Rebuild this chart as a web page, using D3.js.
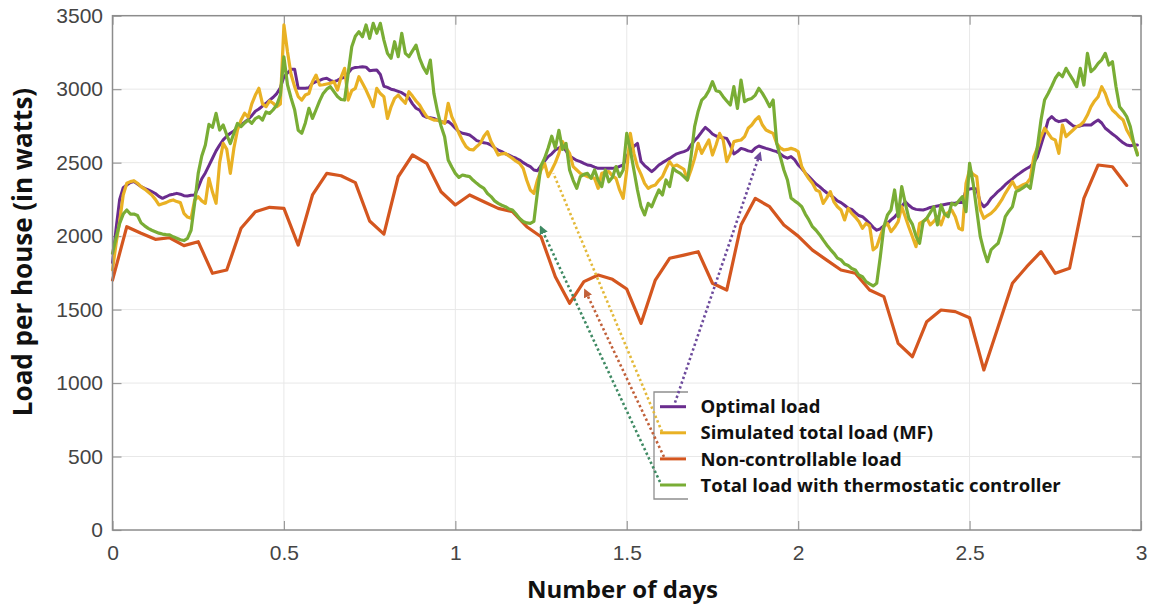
<!DOCTYPE html>
<html>
<head>
<meta charset="utf-8">
<script src="https://cdn.jsdelivr.net/npm/d3@7"></script>
<style>
  html, body { margin: 0; padding: 0; background: #ffffff; }
  svg { display: block; }
</style>
</head>
<body>
<svg id="chart" width="1154" height="606"></svg>
<script>
// ---- Data -------------------------------------------------------------
// Axis ticks
const xTickValues = [0, 0.5, 1, 1.5, 2, 2.5, 3];
const xTickLabels = ["0", "0.5", "1", "1.5", "2", "2.5", "3"];
const yTickValues = [0, 500, 1000, 1500, 2000, 2500, 3000, 3500];
const yTickLabels = ["0", "500", "1000", "1500", "2000", "2500", "3000", "3500"];

// Series names (legend order)
const seriesNames = [
  "Optimal load",
  "Simulated total load (MF)",
  "Non-controllable load",
  "Total load with thermostatic controller"
];

// Sampling steps, in days
const quarterHourStep = 1 / 96;
const hourStep = 1 / 24;

// Optimal load per house (W), every 15 minutes
const optimalLoad = [
  1820,2050,2250,2330,2348,2365,2371,2355,2337,2325,2315,2303,2290,2270,2257,2268,
  2280,2285,2291,2285,2275,2273,2278,2280,2330,2390,2430,2480,2530,2580,2620,2655,
  2680,2700,2715,2740,2756,2775,2795,2820,2850,2865,2885,2904,2925,2945,2970,3010,
  3085,3110,3135,3135,3006,3006,3006,3010,3040,3051,3060,3070,3074,3060,3051,3060,
  3074,3080,3110,3140,3148,3150,3153,3150,3126,3128,3130,3100,3020,3012,3000,2994,
  2985,2976,2960,2940,2900,2870,2858,2820,2808,2805,2801,2790,2780,2772,2780,2760,
  2734,2711,2700,2695,2688,2670,2650,2643,2635,2631,2620,2600,2586,2575,2560,2552,
  2540,2530,2518,2500,2485,2473,2450,2445,2480,2510,2541,2560,2586,2600,2609,2580,
  2545,2530,2515,2507,2495,2484,2480,2470,2461,2461,2461,2461,2461,2465,2475,2484,
  2540,2586,2610,2631,2507,2480,2460,2439,2460,2484,2500,2515,2529,2545,2560,2568,
  2575,2586,2620,2650,2677,2710,2740,2720,2695,2681,2675,2670,2665,2620,2559,2575,
  2597,2590,2580,2575,2600,2613,2605,2597,2590,2582,2575,2560,2541,2530,2541,2520,
  2484,2460,2430,2405,2380,2355,2337,2315,2295,2280,2262,2240,2228,2210,2190,2182,
  2160,2140,2132,2110,2087,2060,2040,2050,2070,2087,2110,2130,2160,2200,2234,2210,
  2190,2182,2180,2178,2185,2195,2200,2205,2210,2215,2220,2223,2225,2228,2228,2314,
  2320,2325,2320,2230,2200,2220,2257,2280,2305,2325,2350,2371,2390,2410,2427,2445,
  2460,2473,2500,2541,2620,2700,2790,2813,2790,2779,2785,2790,2770,2750,2745,2750,
  2756,2756,2756,2775,2790,2770,2734,2715,2695,2677,2655,2635,2620,2615,2620,2620
];

// Simulated total load with the mean-field model (W), every 15 minutes
const simulatedLoad = [
  1770,1950,2100,2280,2360,2371,2377,2360,2337,2320,2300,2280,2250,2212,2220,2228,
  2240,2246,2235,2228,2155,2130,2121,2246,2268,2240,2223,2393,2300,2223,2500,2631,
  2590,2427,2600,2722,2790,2836,2810,2900,2960,3006,2900,2881,2920,2904,2881,2900,
  3437,3255,3100,3017,2950,2926,2960,2971,3050,3096,3028,3030,3035,3040,3051,2994,
  3080,3142,2926,2990,3006,3085,3040,2994,2940,2881,3006,2970,2949,2801,2880,2937,
  2960,2930,2904,2983,2953,2920,2892,2850,2813,2800,2790,2790,2780,2767,2904,2813,
  2760,2700,2650,2609,2590,2586,2610,2631,2680,2711,2643,2600,2552,2560,2563,2545,
  2529,2510,2495,2461,2380,2314,2291,2382,2450,2495,2405,2450,2500,2563,2643,2600,
  2563,2473,2450,2427,2415,2405,2400,2393,2325,2427,2435,2439,2410,2393,2314,2257,
  2450,2699,2563,2473,2420,2359,2325,2340,2348,2380,2405,2460,2507,2473,2484,2470,
  2455,2382,2450,2529,2631,2563,2610,2654,2552,2620,2699,2654,2507,2560,2643,2650,
  2654,2677,2734,2756,2790,2813,2756,2722,2710,2699,2631,2600,2586,2590,2597,2590,
  2575,2473,2427,2390,2359,2314,2303,2223,2260,2303,2234,2200,2178,2110,2189,2155,
  2130,2099,2053,2087,2070,1906,1928,2000,2064,2087,2030,2060,2099,2200,2132,2060,
  1996,1928,2087,2100,2121,2076,2100,2132,2076,2144,2160,2178,2132,2053,2042,2359,
  2450,2420,2405,2178,2121,2140,2155,2178,2210,2246,2291,2330,2371,2325,2337,2350,
  2359,2393,2541,2600,2677,2734,2700,2665,2654,2563,2756,2677,2700,2722,2745,2756,
  2780,2824,2881,2920,2949,3017,2971,2900,2858,2836,2810,2790,2722,2680,2631,2563
];

// Non-controllable load (W), hourly
const nonControllableLoad = [
  1701,2064,2019,1978,1989,1935,1962,1747,1769,2053,2166,2196,
  2189,1939,2280,2427,2411,2364,2103,2014,2404,2552,2495,2302,
  2212,2280,2234,2189,2166,2064,1996,1724,1543,1690,1735,1706,
  1640,1406,1701,1849,1871,1894,1679,1633,2075,2257,2200,2075,
  2000,1905,1837,1769,1747,1633,1588,1270,1179,1418,1497,1486,
  1445,1089,1384,1679,1792,1894,1747,1781,2257,2484,2472,2345
];

// Total load with thermostatic controller (W), every 15 minutes
const thermostaticLoad = [
  1883,1990,2087,2150,2178,2150,2150,2140,2090,2070,2053,2040,2030,2020,2014,2010,
  2008,1995,1985,1975,1970,1985,2040,2223,2427,2545,2620,2760,2740,2835,2722,2756,
  2688,2630,2700,2767,2745,2770,2790,2767,2800,2813,2790,2845,2835,2860,2892,2960,
  3220,3030,2940,2860,2720,2700,2770,2870,2801,2860,2920,2971,3000,3017,2983,2950,
  2930,2926,3108,3289,3360,3391,3357,3437,3346,3448,3380,3448,3334,3244,3210,3323,
  3221,3380,3244,3221,3260,3300,3210,3150,3108,3198,2971,2850,2750,2677,2518,2470,
  2427,2400,2416,2410,2405,2380,2359,2340,2325,2290,2269,2240,2223,2210,2200,2185,
  2178,2150,2120,2099,2090,2087,2100,2300,2480,2530,2600,2680,2600,2720,2590,2631,
  2450,2380,2325,2405,2420,2427,2393,2450,2380,2337,2450,2370,2400,2473,2405,2450,
  2699,2586,2450,2314,2200,2144,2223,2200,2260,2314,2280,2382,2337,2461,2440,2427,
  2405,2382,2541,2745,2850,2926,2949,2990,3051,2990,2983,2949,2920,2892,3017,2869,
  3062,2915,2930,2937,2960,3006,2971,2930,2881,2926,2631,2540,2450,2382,2260,2240,
  2223,2200,2150,2110,2064,2040,2010,1974,1940,1910,1883,1850,1838,1810,1800,1780,
  1770,1735,1724,1690,1675,1661,1679,1860,2064,2144,2178,2314,2132,2337,2223,2121,
  2080,2000,1951,2099,2121,2160,2200,2076,2212,2150,2132,2223,2212,2240,2269,2166,
  2495,2359,2178,1996,1900,1826,1906,1930,1951,2030,2132,2170,2200,2303,2314,2330,
  2348,2325,2473,2609,2790,2926,2971,3020,3074,3108,3085,3142,3100,3062,3017,3142,
  3028,3244,3119,3142,3176,3200,3244,3164,3187,3017,2881,2850,2813,2745,2631,2552
];

// Points on the curves picked out by the dotted call-outs: [day, load]
const calloutTargets = [
  [1.889, 2565],  // optimal load
  [1.286, 2427],  // simulated total load
  [1.378, 1633],  // non-controllable load
  [1.249, 2062]   // thermostatic controller
];

// ---- Layout -----------------------------------------------------------
const colors = ["#6a2c8e", "#e9b124", "#d4561f", "#79ad35"];
const calloutColors = ["#6d4a9c", "#e3b93a", "#c2613a", "#3f8a63"];

const svg = d3.select("#chart");
const plot = { left: 112.5, right: 1141, top: 15.7, bottom: 530 };

const x = d3.scaleLinear().domain([0, 3]).range([plot.left, plot.right]);
const y = d3.scaleLinear().domain([0, 3500]).range([plot.bottom, plot.top]);

// Grid
const grid = svg.append("g").attr("stroke", "#e8e8e8").attr("stroke-width", 1);
grid.selectAll("line.gx").data(xTickValues.slice(1, -1)).join("line")
  .attr("class", "gx")
  .attr("x1", d => x(d)).attr("x2", d => x(d))
  .attr("y1", plot.top).attr("y2", plot.bottom);
grid.selectAll("line.gy").data(yTickValues.slice(1, -1)).join("line")
  .attr("class", "gy")
  .attr("x1", plot.left).attr("x2", plot.right)
  .attr("y1", d => y(d)).attr("y2", d => y(d));

// Axes with inward ticks on all four sides
const tickLen = 9;
const axisFont = "'Liberation Sans', Arial, sans-serif";

const xAxis = svg.append("g")
  .attr("transform", `translate(0,${plot.bottom})`)
  .call(d3.axisBottom(x).tickValues(xTickValues)
    .tickFormat((d, i) => xTickLabels[i])
    .tickSizeInner(-tickLen).tickSizeOuter(0).tickPadding(15));
const yAxis = svg.append("g")
  .attr("transform", `translate(${plot.left},0)`)
  .call(d3.axisLeft(y).tickValues(yTickValues)
    .tickFormat((d, i) => yTickLabels[i])
    .tickSizeInner(-tickLen).tickSizeOuter(0).tickPadding(9.5));
const xAxisTop = svg.append("g")
  .attr("transform", `translate(0,${plot.top})`)
  .call(d3.axisTop(x).tickValues(xTickValues).tickFormat("")
    .tickSizeInner(-tickLen).tickSizeOuter(0));
const yAxisRight = svg.append("g")
  .attr("transform", `translate(${plot.right},0)`)
  .call(d3.axisRight(y).tickValues(yTickValues).tickFormat("")
    .tickSizeInner(-tickLen).tickSizeOuter(0));

[xAxis, yAxis, xAxisTop, yAxisRight].forEach(g => {
  g.select(".domain").remove();
  g.selectAll(".tick line").attr("stroke", "#9a9a9a").attr("stroke-width", 1.2);
  g.selectAll(".tick text")
    .attr("fill", "#444444")
    .style("font-family", axisFont)
    .style("font-size", "21px");
});

// Series lines
const quarterLine = d3.line()
  .x((d, i) => x(i * quarterHourStep))
  .y(d => y(d));
const hourLine = d3.line()
  .x((d, i) => x(i * hourStep))
  .y(d => y(d));

const seriesDefs = [
  { values: optimalLoad, line: quarterLine, width: 3 },
  { values: simulatedLoad, line: quarterLine, width: 3.2 },
  { values: nonControllableLoad, line: hourLine, width: 3.2 },
  { values: thermostaticLoad, line: quarterLine, width: 3.2 }
];

svg.append("g").selectAll("path").data(seriesDefs).join("path")
  .attr("d", d => d.line(d.values))
  .attr("fill", "none")
  .attr("stroke", (d, i) => colors[i])
  .attr("stroke-width", d => d.width)
  .attr("stroke-linejoin", "round")
  .attr("stroke-linecap", "round");

// Axis frame
svg.append("rect")
  .attr("x", plot.left).attr("y", plot.top)
  .attr("width", plot.right - plot.left).attr("height", plot.bottom - plot.top)
  .attr("fill", "none").attr("stroke", "#8c8c8c").attr("stroke-width", 1.5);

// Axis titles
const titleFont = "'Open Sans', 'Noto Sans', sans-serif";
svg.append("text")
  .attr("x", 622.5).attr("y", 598)
  .attr("text-anchor", "middle")
  .style("font-family", titleFont).style("font-weight", "bold").style("font-size", "24px")
  .attr("fill", "#111111")
  .text("Number of days");
svg.append("text")
  .attr("transform", `translate(32,252) rotate(-90)`)
  .attr("text-anchor", "middle")
  .style("font-family", titleFont).style("font-weight", "bold").style("font-size", "26px")
  .attr("fill", "#111111")
  .text("Load per house (in watts)");

// Legend
const legend = { left: 654, top: 392, bottom: 499, firstRow: 406.7, rowGap: 26.1,
                 sampleX1: 660, sampleX2: 686, textX: 700.5 };
svg.append("path")
  .attr("d", `M${legend.left + 34},${legend.top} H${legend.left} V${legend.bottom} H${legend.left + 34}`)
  .attr("fill", "none").attr("stroke", "#8f8f8f").attr("stroke-width", 1.3);

const rows = svg.append("g").selectAll("g").data(seriesNames).join("g")
  .attr("transform", (d, i) => `translate(0,${legend.firstRow + i * legend.rowGap})`);
rows.append("line")
  .attr("x1", legend.sampleX1).attr("x2", legend.sampleX2)
  .attr("stroke", (d, i) => colors[i]).attr("stroke-width", 3);
rows.append("text")
  .attr("x", legend.textX).attr("dy", "0.36em")
  .style("font-family", titleFont).style("font-weight", "bold").style("font-size", "18.5px")
  .attr("fill", "#111111")
  .text(d => d);

// Dotted call-outs from each legend entry to its curve
const defs = svg.append("defs");
calloutColors.forEach((c, i) => {
  defs.append("marker")
    .attr("id", `head${i}`)
    .attr("viewBox", "0 0 10 10").attr("refX", 8).attr("refY", 5)
    .attr("markerWidth", 3.4).attr("markerHeight", 3.4)
    .attr("orient", "auto")
    .append("path").attr("d", "M0,0 L10,5 L0,10 z").attr("fill", c);
});
const calloutStarts = [
  [675, legend.firstRow - 4],
  [662, legend.firstRow + legend.rowGap - 1],
  [664, legend.firstRow + 2 * legend.rowGap - 2],
  [660, legend.firstRow + 3 * legend.rowGap - 3]
];
svg.append("g").selectAll("line").data(calloutTargets).join("line")
  .attr("x1", (d, i) => calloutStarts[i][0]).attr("y1", (d, i) => calloutStarts[i][1])
  .attr("x2", d => x(d[0])).attr("y2", d => y(d[1]))
  .attr("stroke", (d, i) => calloutColors[i])
  .attr("stroke-width", 2.6)
  .attr("stroke-dasharray", "2.4 2.6")
  .attr("marker-end", (d, i) => i === 1 ? null : `url(#head${i})`);
</script>
</body>
</html>
